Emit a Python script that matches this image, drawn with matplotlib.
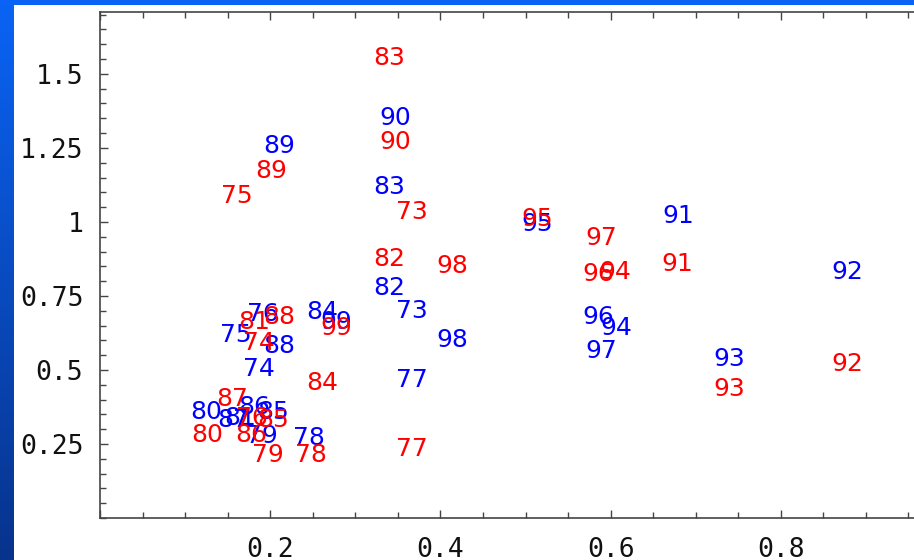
import numpy as np
import matplotlib.pyplot as plt
from matplotlib.patches import Rectangle
from matplotlib.ticker import MultipleLocator

# year labels and their positions
blue_years = [73, 74, 75, 76, 77, 78, 79, 80, 81, 82, 83, 84, 85, 86, 87, 88, 89,
              90, 91, 92, 93, 94, 95, 96, 97, 98, 99]
blue_x = [0.366, 0.187, 0.160, 0.191, 0.366, 0.246, 0.190, 0.125, 0.165, 0.340, 0.340,
          0.261, 0.203, 0.181, 0.157, 0.211, 0.211, 0.347, 0.679, 0.878, 0.739,
          0.607, 0.514, 0.586, 0.589, 0.414, 0.278]
blue_y = [0.709, 0.510, 0.625, 0.696, 0.476, 0.280, 0.285, 0.365, 0.345, 0.784, 1.125,
          0.703, 0.365, 0.385, 0.340, 0.588, 1.264, 1.358, 1.030, 0.838, 0.547,
          0.649, 1.000, 0.689, 0.574, 0.611, 0.672]

red_years = [73, 74, 75, 76, 77, 78, 79, 80, 81, 82, 83, 84, 85, 86, 87, 88, 89,
             90, 91, 92, 93, 94, 95, 96, 97, 98, 99]
red_x = [0.366, 0.187, 0.161, 0.178, 0.366, 0.248, 0.197, 0.126, 0.181, 0.340, 0.340,
         0.261, 0.203, 0.178, 0.155, 0.211, 0.201, 0.347, 0.678, 0.878, 0.739,
         0.605, 0.514, 0.586, 0.589, 0.414, 0.278]
red_y = [1.041, 0.598, 1.095, 0.345, 0.240, 0.220, 0.220, 0.290, 0.672, 0.882, 1.561,
         0.463, 0.340, 0.290, 0.409, 0.689, 1.179, 1.277, 0.868, 0.527, 0.443,
         0.838, 1.017, 0.831, 0.953, 0.858, 0.649]

W, H = 914, 560
fig = plt.figure(figsize=(W / 100, H / 100), dpi=100)

# slide background: blue gradient with a white panel
bg = fig.add_axes([0, 0, 1, 1])
bg.set_axis_off()
grad = np.linspace(0, 1, 256).reshape(-1, 1)
cols = np.array([[0.04, 0.39, 0.96]]) * (1 - grad) + np.array([[0.03, 0.20, 0.55]]) * grad
bg.imshow(cols.reshape(256, 1, 3), aspect='auto', extent=[0, 1, 0, 1], origin='upper')
bg.add_patch(Rectangle((14 / W, 0), 1, (H - 5) / H, facecolor='white', edgecolor='none'))
bg.set_xlim(0, 1)
bg.set_ylim(0, 1)

ax = fig.add_axes([100 / W, 42 / H, 1 - 100 / W, 506 / H])
ax.patch.set_alpha(0)
ax.set_xlim(0, 0.9565)
ax.set_ylim(0, 1.709)

for yr, x, y in zip(blue_years, blue_x, blue_y):
    ax.text(x, y, str(yr), color='#0000ff', fontsize=18, ha='center',
            va='center_baseline', family='DejaVu Sans')
for yr, x, y in zip(red_years, red_x, red_y):
    ax.text(x, y, str(yr), color='#ff0000', fontsize=18, ha='center',
            va='center_baseline', family='DejaVu Sans')

ax.xaxis.set_major_locator(MultipleLocator(0.2))
ax.xaxis.set_minor_locator(MultipleLocator(0.05))
ax.xaxis.set_major_formatter(plt.FuncFormatter(lambda v, p: '' if v < 0.1 else f'{v:.1f}'))
ax.set_yticks([0.25, 0.5, 0.75, 1.0, 1.25, 1.5])
ax.set_yticklabels(['0.25', '0.5', '0.75', '1', '1.25', '1.5'])
ax.yaxis.set_minor_locator(MultipleLocator(0.05))

ax.tick_params(which='both', direction='in', top=True, color='#444444', width=1)
ax.tick_params(which='major', length=6, labelsize=19, pad=14)
ax.tick_params(which='minor', length=4)
ax.tick_params(axis='y', which='major', pad=12)
for lab in ax.get_xticklabels() + ax.get_yticklabels():
    lab.set_family('DejaVu Sans Mono')
    lab.set_color('#111111')

for side in ['left', 'bottom', 'top']:
    ax.spines[side].set_color('#444444')
    ax.spines[side].set_linewidth(1.2)
ax.spines['right'].set_visible(False)

fig.savefig('out.png', dpi=100)
